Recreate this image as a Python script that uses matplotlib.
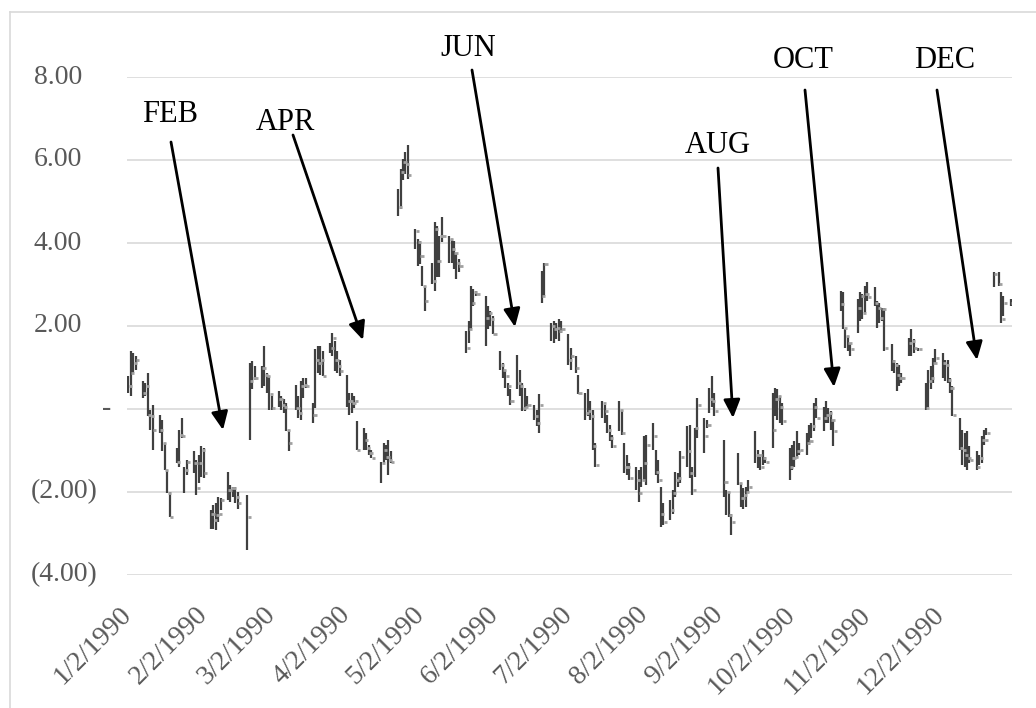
import matplotlib
matplotlib.use('Agg')
import numpy as np
import pandas as pd
import matplotlib.pyplot as plt
import matplotlib.dates as mdates
from matplotlib.lines import Line2D

plt.rcParams['font.family'] = ['Liberation Serif', 'DejaVu Serif']

# trading days of 1990 (exchange holidays removed)
holidays = ['1990-02-19', '1990-04-13', '1990-05-28', '1990-07-04',
            '1990-09-03', '1990-11-22', '1990-12-25']
dates = pd.bdate_range('1990-01-02', '1990-12-31', freq='C', holidays=holidays)

# high / low / close, one row per week
high = [
    0.79, 1.40, 1.35, 1.27,
    0.67, 0.63, 0.87, -0.02, 0.10,
    -0.14, -0.26, -0.82, -1.47, -1.99,
    -0.94, -0.50, -0.22, -1.39, -1.23,
    -1.02, -1.23, -1.10, -0.90, -0.94,
    -2.44, -2.31, -2.27, -2.11, -2.15,
    -1.51, -1.83, -1.87, -1.87, -1.99,
    -2.07, 1.11, 1.15, 1.03,
    1.03, 1.52, 0.87, 0.79, 0.31,
    0.43, 0.31, 0.23, 0.15, -0.50,
    0.59, 0.31, 0.67, 0.75, 0.75,
    0.15, 1.44, 1.52, 1.52, 1.40,
    1.60, 1.84, 1.64, 1.40, 1.19,
    0.83, 0.39, 0.39, 0.31, -0.30,
    -0.46, -0.58, -0.86, -0.98,
    -1.27, -0.82, -0.86, -0.74, -1.02,
    5.31, 5.79, 6.03, 6.19, 6.35,
    4.34, 4.10, 4.06, 3.45, 2.97,
    3.53, 4.50, 4.42, 4.18, 4.62,
    4.18, 4.10, 4.06, 3.77, 3.61,
    1.88, 2.12, 2.97, 2.89, 2.85,
    2.73, 2.48, 2.36, 2.24,
    1.40, 1.11, 0.95, 0.63, 0.47,
    1.31, 0.95, 0.63, 0.51, 0.31,
    0.10, -0.02, 0.35, 3.33, 3.53,
    2.08, 2.12, 2.08, 2.16, 2.12,
    1.80, 1.48, 1.27, 0.83,
    0.39, 0.47, 0.19, -0.02, -0.82,
    0.19, 0.10, -0.14, -0.38, -0.62,
    0.19, -0.02, -0.82, -1.10, -1.31,
    -1.39, -1.47, -1.39, -0.66, -0.62,
    -0.34, -0.98, -1.23, -1.87, -2.27,
    -2.19, -1.95, -1.51, -1.55, -1.02,
    -0.42, -0.38, -1.39, -0.46, 0.27,
    -0.22, -0.26, 0.51, 0.79, 0.39,
    -0.74, -1.95, -1.99, -2.52,
    -1.06, -1.79, -1.91, -1.87, -1.71,
    -0.54, -0.98, -1.15, -0.98, -1.15,
    0.39, 0.51, 0.47, 0.31, 0.15,
    -0.94, -0.86, -0.78, -0.54, -0.82,
    -0.58, -0.38, -0.34, 0.15, 0.27,
    0.06, 0.19, 0.02, -0.06, -0.26,
    2.85, 2.81, 1.92, 1.76, 1.60,
    2.65, 2.81, 2.77, 2.97, 3.05,
    2.93, 2.60, 2.56, 2.44, 2.44,
    1.56, 1.19, 1.11, 1.07, 0.87,
    1.72, 1.92, 1.68, 1.48,
    0.63, 0.95, 1.03, 1.23, 1.44,
    1.35, 1.19, 1.19, 0.75, 0.55,
    -0.22, -0.50, -0.58, -0.54, -0.90,
    -1.02, -1.10, -0.66, -0.50, -0.46,
    3.29, 3.29, 2.81, 2.73,
    2.65,
]
low = [
    0.39, 0.31, 0.87, 0.95,
    0.27, 0.31, -0.18, -0.50, -0.98,
    -0.58, -1.02, -1.47, -2.03, -2.60,
    -1.31, -1.39, -0.70, -2.03, -1.59,
    -1.55, -2.07, -1.79, -1.63, -1.67,
    -2.88, -2.88, -2.92, -2.72, -2.44,
    -2.19, -2.23, -2.11, -2.27, -2.40,
    -3.40, -0.74, 0.47, 0.71,
    0.51, 0.55, 0.39, -0.02, -0.02,
    0.06, -0.02, -0.10, -0.54, -1.02,
    -0.02, -0.22, -0.26, 0.27, 0.51,
    -0.34, 0.02, 0.87, 0.83, 0.79,
    1.35, 1.27, 0.91, 0.87, 0.79,
    0.06, -0.14, -0.10, 0.02, -0.98,
    -0.98, -0.98, -1.10, -1.19,
    -1.79, -1.31, -1.23, -1.59, -1.31,
    4.66, 4.82, 5.51, 5.67, 5.55,
    3.85, 3.45, 3.49, 2.97, 2.36,
    3.01, 2.85, 3.17, 3.17, 4.02,
    3.53, 3.53, 3.37, 3.13, 3.29,
    1.35, 1.60, 1.92, 2.48, 2.73,
    1.52, 1.92, 2.00, 1.80,
    0.95, 0.75, 0.51, 0.31, 0.10,
    0.47, 0.31, -0.06, -0.06, 0.06,
    -0.26, -0.42, -0.58, 2.56, 2.73,
    1.64, 1.60, 1.68, 1.64, 1.84,
    1.07, 0.95, 0.87, 0.35,
    -0.26, -0.18, -0.26, -0.98, -1.39,
    -0.22, -0.34, -0.58, -0.78, -0.94,
    -0.54, -0.62, -1.55, -1.59, -1.71,
    -1.95, -2.23, -1.87, -1.71, -1.83,
    -0.98, -1.59, -1.79, -2.84, -2.80,
    -2.68, -2.52, -2.11, -1.87, -1.79,
    -1.39, -1.67, -2.07, -1.63, -0.70,
    -1.06, -0.46, -0.10, 0.06, -0.18,
    -2.11, -2.56, -2.60, -3.04,
    -1.83, -2.35, -2.40, -2.35, -2.03,
    -1.31, -1.43, -1.47, -1.35, -1.31,
    -0.94, -0.18, -0.26, -0.34, -0.38,
    -1.71, -1.47, -1.39, -1.19, -1.10,
    -1.10, -0.86, -0.70, -0.54, -0.22,
    -0.54, -0.34, -0.34, -0.50, -0.90,
    2.36, 1.92, 1.48, 1.40, 1.27,
    1.84, 2.12, 2.16, 2.32, 2.60,
    2.48, 1.96, 2.08, 2.12, 1.40,
    0.91, 0.87, 0.43, 0.55, 0.63,
    1.27, 1.27, 1.35, 1.40,
    -0.02, 0.06, 0.47, 0.63, 1.11,
    0.75, 0.67, 0.63, 0.39, -0.18,
    -0.98, -1.35, -1.39, -1.47, -1.31,
    -1.47, -1.35, -1.31, -0.86, -0.62,
    2.93, 2.97, 2.08, 2.24,
    2.48,
]
close = [
    0.55, 0.87, 1.11, 1.19,
    0.39, 0.55, -0.14, -0.18, -0.50,
    -0.50, -0.82, -1.47, -2.03, -2.60,
    -1.27, -0.62, -0.66, -1.47, -1.27,
    -1.31, -1.91, -1.31, -0.98, -1.55,
    -2.52, -2.68, -2.56, -2.52, -2.19,
    -1.95, -1.91, -1.91, -2.11, -2.27,
    -2.60, 0.67, 0.75, 0.75,
    0.99, 0.83, 0.79, 0.35, 0.02,
    0.23, 0.10, 0.06, -0.50, -0.82,
    0.02, -0.10, 0.55, 0.59, 0.55,
    -0.14, 1.19, 1.11, 1.19, 0.79,
    1.48, 1.72, 1.19, 1.03, 0.91,
    0.19, 0.19, 0.15, 0.19, -0.98,
    -0.74, -0.94, -1.06, -1.19,
    -1.31, -0.98, -1.15, -1.23, -1.27,
    4.86, 5.71, 5.95, 5.91, 5.63,
    4.30, 4.02, 3.69, 2.97, 2.60,
    3.09, 4.34, 3.57, 4.18, 4.18,
    4.10, 3.85, 3.77, 3.53, 3.45,
    1.48, 1.92, 2.56, 2.81, 2.77,
    2.20, 2.32, 2.16, 1.80,
    1.07, 0.95, 0.79, 0.55, 0.19,
    0.63, 0.55, 0.02, 0.06, 0.10,
    -0.18, -0.34, 0.10, 2.73, 3.49,
    2.00, 1.92, 1.96, 1.88, 1.92,
    1.19, 1.27, 0.99, 0.39,
    -0.10, -0.06, -0.18, -0.90, -1.35,
    0.15, -0.06, -0.50, -0.70, -0.90,
    -0.02, -0.58, -1.39, -1.39, -1.67,
    -1.71, -2.03, -1.71, -1.31, -0.86,
    -0.66, -1.51, -1.71, -2.52, -2.72,
    -2.44, -2.03, -1.71, -1.67, -1.15,
    -1.02, -1.55, -1.95, -0.46, 0.10,
    -0.66, -0.38, 0.23, 0.19, -0.06,
    -1.75, -1.99, -2.56, -2.72,
    -1.79, -2.15, -2.07, -1.99, -1.87,
    -1.10, -1.10, -1.39, -1.19, -1.27,
    -0.50, 0.23, 0.31, 0.06, -0.30,
    -1.39, -1.19, -1.15, -1.02, -0.98,
    -0.82, -0.78, -0.42, 0.06, -0.22,
    -0.22, -0.14, -0.10, -0.26, -0.54,
    2.52, 1.96, 1.76, 1.60, 1.44,
    2.44, 2.73, 2.32, 2.77, 2.69,
    2.56, 2.44, 2.20, 2.40, 1.48,
    1.15, 1.07, 0.83, 0.75, 0.75,
    1.60, 1.64, 1.48, 1.44,
    0.02, 0.67, 0.75, 1.11, 1.23,
    1.11, 1.07, 0.71, 0.51, -0.14,
    -0.94, -0.98, -1.10, -1.19, -1.23,
    -1.39, -1.19, -0.74, -0.74, -0.58,
    3.25, 3.01, 2.16, 2.56,
    2.56,
]

y_ticks = [8, 6, 4, 2, 0, -2, -4]
y_labels = ['8.00', '6.00', '4.00', '2.00', '-', '(2.00)', '(4.00)']
x_ticks = [pd.Timestamp(1990, m, 2) for m in range(1, 13)]
x_labels = ['%d/2/1990' % m for m in range(1, 13)]

# annotation text: (label, text x, text baseline y, arrow start, arrow tip), image pixels
notes = [
    ('FEB', 170, 122, (171, 142), (223, 430)),
    ('APR', 285, 130, (293, 135), (363, 340)),
    ('JUN', 468, 56, (472, 70), (515, 327)),
    ('AUG', 718, 153, (718, 168), (733, 418)),
    ('OCT', 803, 68, (805, 90), (834, 387)),
    ('DEC', 945, 68, (937, 90), (977, 360)),
]

W, H = 1036, 708
fig = plt.figure(figsize=(W / 100, H / 100), dpi=100)
left, right, top, bottom = 127, 1012, 77, 575
ax = fig.add_axes([left / W, 1 - bottom / H, (right - left) / W, (bottom - top) / H])

x = mdates.date2num(dates)
ax.vlines(x, low, high, color='#404040', lw=1.6, zorder=3)
ax.hlines(close, x + 0.2, x + 1.5, color='#a0a0a0', lw=2, zorder=4)

ax.set_ylim(-4, 8)
ax.set_xlim(x[0] - 0.5, x[-1] + 0.5)
ax.set_yticks(y_ticks)
ax.set_yticklabels([])
ax.grid(axis='y', color='#d9d9d9', lw=1.2)
ax.set_axisbelow(True)
for s in ax.spines.values():
    s.set_visible(False)
ax.tick_params(axis='both', length=0)

ax.set_xticks(mdates.date2num(x_ticks))
ax.set_xticklabels(x_labels, rotation=45, ha='right', va='center',
                   rotation_mode='anchor', fontsize=20, color='#595959')
ax.tick_params(axis='x', pad=26)

# y labels in accounting style
span = right - left
for v, lab in zip(y_ticks, y_labels):
    if v > 0:
        xr, ha = (82 - left) / span, 'right'
    elif v < 0:
        xr, ha = (98 - left) / span, 'right'
    else:
        xr, ha = (107 - left) / span, 'center'
    ax.text(xr, v, lab, transform=ax.get_yaxis_transform(), ha=ha, va='center',
            fontsize=20, color='#595959')

for lab, tx, ty, start, tip in notes:
    fig.text(tx / W, 1 - ty / H, lab, ha='center', va='baseline', fontsize=22, color='black')
    fig.add_artist(matplotlib.patches.FancyArrowPatch(
        (start[0], H - start[1]), (tip[0], H - tip[1]),
        transform=None,
        arrowstyle='-|>,head_length=1.1,head_width=0.5',
        mutation_scale=10, lw=2, color='black', shrinkA=0, shrinkB=0))

# chart area border
fig.add_artist(Line2D([10 / W, 10 / W], [0, 1 - 12 / H], color='#d9d9d9', lw=1.2))
fig.add_artist(Line2D([10 / W, 1], [1 - 12 / H, 1 - 12 / H], color='#d9d9d9', lw=1.2))

fig.savefig('out.png', dpi=100)
